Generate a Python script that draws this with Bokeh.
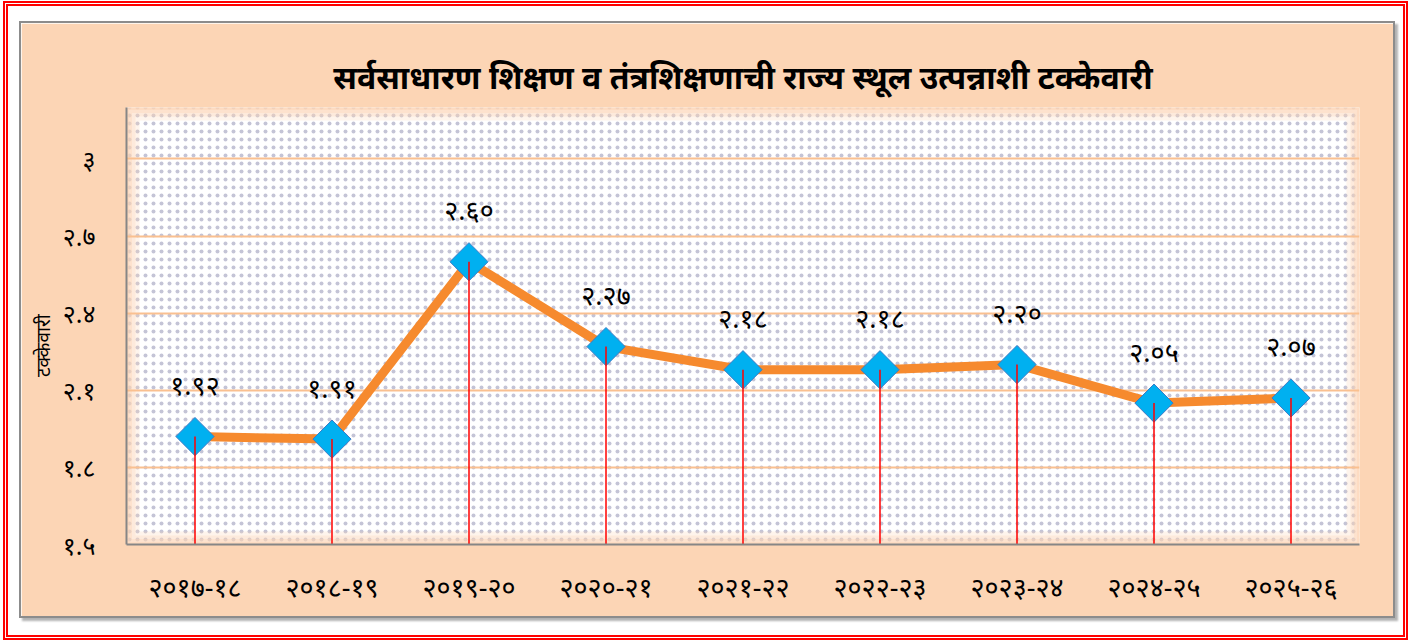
import math
from bokeh.plotting import figure
from bokeh.models import ColumnDataSource, FactorRange, Range1d, FixedTicker, BoxAnnotation
from bokeh.layouts import column
from bokeh.embed import file_html
from bokeh.resources import INLINE
from bokeh.core.properties import value

# ---------------- data ----------------
years = ["२०१७-१८", "२०१८-१९", "२०१९-२०", "२०२०-२१", "२०२१-२२",
         "२०२२-२३", "२०२३-२४", "२०२४-२५", "२०२५-२६"]
values = [1.92, 1.91, 2.60, 2.27, 2.18, 2.18, 2.20, 2.05, 2.07]
y_ticks = [1.5, 1.8, 2.1, 2.4, 2.7, 3.0]
y_tick_labels = ["१.५", "१.८", "२.१", "२.४", "२.७", "३"]
title_text = "सर्वसाधारण शिक्षण व तंत्रशिक्षणाची राज्य स्थूल उत्पन्नाशी टक्केवारी"
y_title = "टक्केवारी"

DEV = str.maketrans("0123456789", "०१२३४५६७८९")
labels = [f"{v:.2f}".translate(DEV) for v in values]

FONT = "Noto Sans"
PEACH = "#FCD5B5"

src = ColumnDataSource(dict(x=years, y=values, lab=labels,
                            base=[y_ticks[0]] * len(values)))

p = figure(x_range=FactorRange(*years), y_range=Range1d(1.5, 3.2),
           width=1372, height=593, output_backend="svg", toolbar_location=None,
           min_border_left=105, min_border_right=34, min_border_top=84,
           min_border_bottom=72)
p.border_fill_color = PEACH
p.background_fill_color = "white"
p.outline_line_color = None

# title
p.title.text = title_text
p.title.text_font = FONT
p.title.text_font_size = "32px"
p.title.text_font_style = "bold"
p.title.text_color = "black"
p.title.align = "center"
p.title.offset = -7
p.title.standoff = 20

# dotted background
p.add_layout(BoxAnnotation(fill_color="white", fill_alpha=1.0, line_color=None,
                           hatch_pattern="dot", hatch_color="#C4C4D6",
                           hatch_scale=8, hatch_weight=1, level="image"))
# soft peach fade at the edges
for w, a in [(26, 0.25), (18, 0.3), (11, 0.35), (5, 0.45)]:
    p.add_layout(BoxAnnotation(fill_color=None, line_color=PEACH, line_width=w,
                               line_alpha=a, level="image"))

# axes
p.yaxis.ticker = FixedTicker(ticks=y_ticks)
p.yaxis.major_label_overrides = {t: l for t, l in zip(y_ticks, y_tick_labels)}
for ax in (p.xaxis[0], p.yaxis[0]):
    ax.axis_line_color = "#868686"
    ax.axis_line_width = 2
    ax.major_tick_line_color = None
    ax.minor_tick_line_color = None
    ax.major_tick_out = 0
    ax.major_tick_in = 0
    ax.major_label_text_font = FONT
    ax.major_label_text_font_size = "25px"
    ax.major_label_text_font_style = "normal"
    ax.major_label_text_color = "black"
p.xaxis.major_label_text_font_size = "27px"
p.yaxis.major_label_standoff = 31
p.xaxis.major_label_standoff = 23
p.yaxis.axis_label = y_title + "\u00a0" * 8
p.yaxis.axis_label_text_font = FONT
p.yaxis.axis_label_text_font_size = "19px"
p.yaxis.axis_label_text_font_style = "normal"
p.yaxis.axis_label_text_color = "black"
p.yaxis.axis_label_standoff = 4

p.xgrid.grid_line_color = None
p.ygrid.grid_line_color = "#FAC090"
p.ygrid.grid_line_width = 2

# series
p.line("x", "y", source=src, line_color="#F68A2E", line_width=9)
p.scatter("x", "y", source=src, marker="square", size=27, angle=math.pi / 4,
          fill_color="#00B0F0", line_color="#3C7BC6", line_width=1)
p.segment(x0="x", y0="y", x1="x", y1="base", source=src,
          line_color="#FF0000", line_width=1.5)
p.text("x", "y", text="lab", source=src, y_offset=-52,
       text_align="center", text_baseline="middle",
       text_font=value(FONT), text_font_size="27px", text_font_style="normal",
       text_color="black")

inner = column(p, styles={"border": "2px solid #8C8C8C",
                          "box-shadow": "3px 3px 2px rgba(0,0,0,0.3)"})
outer = column(inner, styles={"border": "5px double #FF0000",
                              "padding": "15px 8px 17px 11px",
                              "margin-left": "3px", "margin-top": "1px",
                              "background": "white"})

open("out.html", "w").write(file_html(outer, INLINE))
